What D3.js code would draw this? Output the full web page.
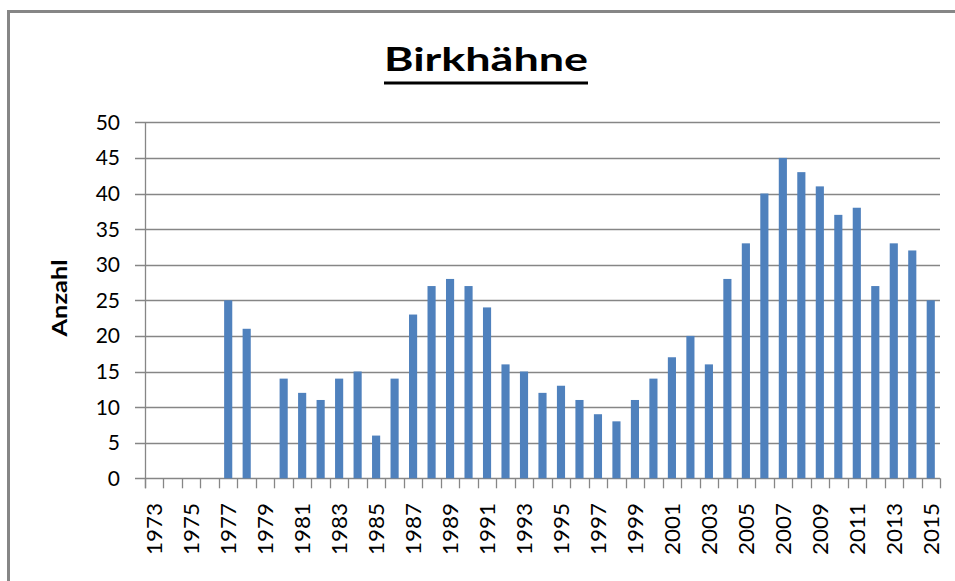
<!DOCTYPE html>
<meta charset="utf-8">
<style>
  body { margin: 0; background: #fff; }
  text { font-family: Lato, "Open Sans", sans-serif; fill: #000; }
</style>
<script src="https://d3js.org/d3.v7.min.js"></script>
<div id="chart"></div>
<script>

// Birkhähne count per year (empty years have no bar)
var years = d3.range(1973, 2016).map(String);
var counts = [null, null, null, null, 25, 21, null, 14, 12, 11,
              14, 15, 6, 14, 23, 27, 28, 27, 24, 16,
              15, 12, 13, 11, 9, 8, 11, 14, 17, 20,
              16, 28, 33, 40, 45, 43, 41, 37, 38, 27,
              33, 32, 25];
var yTicks = [0, 5, 10, 15, 20, 25, 30, 35, 40, 45, 50];
var titleText = "Birkhähne";
var yTitle = "Anzahl";

var width = 955, height = 581;
var plotLeft = 145, plotRight = 940, plotTop = 122.3, plotBottom = 478.3;
var gridCol = "#868686";

var svg = d3.select("#chart").append("svg")
  .attr("width", width)
  .attr("height", height);

// outer frame of the chart area
svg.append("rect")
  .attr("x", 8.5).attr("y", 11.5)
  .attr("width", 960).attr("height", 590)
  .attr("fill", "none")
  .attr("stroke", gridCol)
  .attr("stroke-width", 3);

var x = d3.scaleBand()
  .domain(years)
  .range([plotLeft, plotRight])
  .paddingInner(0.56)
  .paddingOuter(0.28);

var y = d3.scaleLinear()
  .domain([0, 50])
  .range([plotBottom, plotTop]);

// gridlines + y ticks
svg.selectAll(".grid").data(yTicks).enter().append("line")
  .attr("x1", plotLeft - 10).attr("x2", plotRight)
  .attr("y1", function(d) { return Math.round(y(d)) + 0.5; })
  .attr("y2", function(d) { return Math.round(y(d)) + 0.5; })
  .attr("stroke", gridCol)
  .attr("stroke-width", 1.3);

svg.selectAll(".ylab").data(yTicks).enter().append("text")
  .attr("x", 120)
  .attr("y", function(d) { return y(d); })
  .attr("dy", "0.36em")
  .attr("text-anchor", "end")
  .style("font-size", "21px")
  .text(function(d) { return d; });

// bars
svg.selectAll(".bar").data(years).enter().append("rect")
  .filter(function(d, i) { return counts[i] != null; })
  .attr("x", function(d) { return x(d); })
  .attr("width", x.bandwidth())
  .attr("y", function(d) { return y(counts[years.indexOf(d)]); })
  .attr("height", function(d) { return plotBottom - y(counts[years.indexOf(d)]); })
  .attr("fill", "#4F81BD");

// y axis line
svg.append("line")
  .attr("x1", plotLeft + 0.5).attr("x2", plotLeft + 0.5)
  .attr("y1", plotTop).attr("y2", plotBottom + 10)
  .attr("stroke", gridCol).attr("stroke-width", 1.3);

// x ticks between categories
svg.selectAll(".xtick").data(d3.range(years.length + 1)).enter().append("line")
  .attr("x1", function(i) { return Math.round(plotLeft + i * x.step()) + 0.5; })
  .attr("x2", function(i) { return Math.round(plotLeft + i * x.step()) + 0.5; })
  .attr("y1", plotBottom).attr("y2", plotBottom + 10)
  .attr("stroke", gridCol).attr("stroke-width", 1.3);

// x labels, every second year, rotated
svg.selectAll(".xlab").data(years.filter(function(d, i) { return i % 2 == 0; }))
  .enter().append("text")
  .attr("transform", function(d) {
    return "translate(" + (x(d) + x.bandwidth() / 2) + "," + 503 + ") rotate(-90)";
  })
  .attr("dy", "0.36em")
  .attr("text-anchor", "end")
  .attr("textLength", 52)
  .attr("lengthAdjust", "spacingAndGlyphs")
  .style("font-size", "22px")
  .text(function(d) { return d; });

// y axis title
svg.append("text")
  .attr("transform", "translate(67,298) rotate(-90)")
  .attr("text-anchor", "middle")
  .attr("textLength", 77)
  .attr("lengthAdjust", "spacingAndGlyphs")
  .style("font-size", "20px")
  .style("font-weight", "bold")
  .text(yTitle);

// title with underline
svg.append("text")
  .attr("x", 486).attr("y", 71)
  .attr("text-anchor", "middle")
  .attr("textLength", 204)
  .attr("lengthAdjust", "spacingAndGlyphs")
  .style("font-size", "33px")
  .style("font-weight", "bold")
  .text(titleText);

svg.append("line")
  .attr("x1", 384).attr("x2", 588)
  .attr("y1", 83).attr("y2", 83)
  .attr("stroke", "#000").attr("stroke-width", 3);

</script>
